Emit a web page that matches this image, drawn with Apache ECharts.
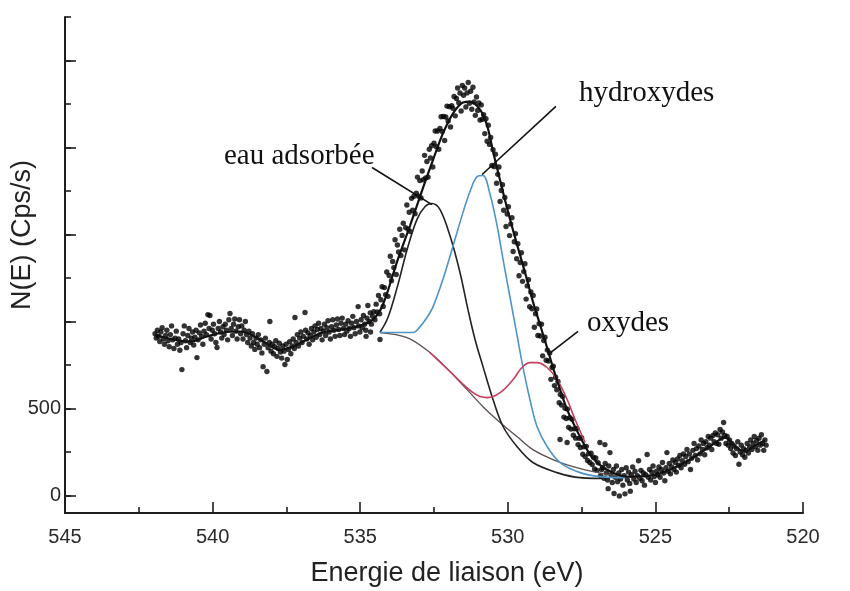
<!DOCTYPE html>
<html>
<head>
<meta charset="utf-8">
<script src="https://cdn.jsdelivr.net/npm/echarts@6/dist/echarts.min.js"></script>
<style>
  html, body { margin: 0; padding: 0; background: #fff; }
  #chart { width: 850px; height: 591px; }
</style>
</head>
<body>
<div id="chart"></div>
<script>
// O 1s spectrum: binding energy (eV) vs counts, with fitted components.

// Measured points [energy, counts]
const measured = [
  [541.95,930],[541.91,905],[541.87,950],[541.83,915],[541.79,885],[541.75,940],[541.71,965],[541.67,900],[541.63,870],[541.59,920],
  [541.55,950],[541.51,890],[541.47,855],[541.43,925],[541.39,975],[541.35,895],[541.31,845],[541.27,905],[541.23,945],[541.19,870],
  [541.15,900],[541.11,835],[541.07,880],[541.04,724],[541.00,930],[540.96,975],[540.92,890],[540.88,850],[540.84,920],[540.80,960],
  [540.76,880],[540.72,905],[540.68,940],[540.64,865],[540.60,910],[540.56,950],[540.53,793],[540.49,895],[540.45,935],[540.41,980],
  [540.37,915],[540.33,870],[540.29,945],[540.25,990],[540.21,925],[540.16,1040],[540.12,960],[540.09,1035],[540.05,900],[540.01,950],
  [539.97,985],[539.93,930],[539.89,880],[539.85,851],[539.81,960],[539.77,1000],[539.73,940],[539.69,905],[539.65,970],[539.61,925],
  [539.57,985],[539.53,950],[539.49,895],[539.45,1010],[539.41,1046],[539.37,960],[539.33,920],[539.29,985],[539.25,1015],[539.21,945],
  [539.17,900],[539.13,970],[539.09,1010],[539.05,930],[539.01,975],[538.97,900],[538.93,950],[538.89,1000],[538.85,925],[538.81,880],
  [538.77,945],[538.73,905],[538.69,860],[538.65,930],[538.61,880],[538.57,840],[538.53,905],[538.49,870],[538.45,925],[538.41,850],
  [538.37,895],[538.33,820],[538.29,741],[538.25,870],[538.21,905],[538.16,713],[538.12,850],[538.08,880],[538.06,1000],[538.02,830],
  [537.98,870],[537.94,815],[537.90,855],[537.86,890],[537.82,800],[537.78,845],[537.74,875],[537.70,825],[537.66,790],[537.62,860],
  [537.58,830],[537.55,753],[537.51,870],[537.47,782],[537.43,840],[537.39,885],[537.35,815],[537.31,860],[537.27,900],[537.23,845],
  [537.21,1023],[537.17,880],[537.13,925],[537.09,860],[537.05,905],[537.01,940],[536.97,880],[536.93,915],[536.87,1052],[536.85,950],
  [536.81,900],[536.77,935],[536.73,870],[536.69,920],[536.65,960],[536.61,895],[536.57,940],[536.53,975],[536.49,910],[536.45,955],
  [536.41,990],[536.37,925],[536.33,960],[536.29,895],[536.25,945],[536.21,985],[536.17,920],[536.13,965],[536.09,1005],[536.05,940],
  [536.01,900],[535.97,970],[535.93,1010],[535.89,950],[535.85,915],[535.81,980],[535.77,1015],[535.73,955],[535.69,920],[535.65,990],
  [535.61,1020],[535.57,960],[535.53,925],[535.49,985],[535.45,945],[535.41,1005],[535.37,960],[535.33,915],[535.29,990],[535.25,1030],
  [535.21,965],[535.17,930],[535.13,1000],[535.07,1086],[535.05,975],[535.01,940],[534.97,1010],[534.93,965],[534.89,1035],[534.85,985],
  [534.81,950],[534.80,915],[534.77,1020],[534.74,1092],[534.70,1000],[534.66,1050],[534.65,940],[534.62,985],[534.58,1030],
  [534.54,1057],[534.50,1010],[534.46,1100],[534.42,1055],[534.38,1150],[534.34,1045],[534.33,897],[534.30,1125],[534.26,1200],[534.22,1087],
  [534.18,1195],[534.14,1155],[534.10,1285],[534.06,1145],[534.02,1265],[533.98,1375],[533.94,1235],[533.90,1345],[533.86,1310],[533.82,1470],
  [533.78,1270],[533.74,1440],[533.70,1400],[533.66,1530],[533.62,1380],[533.58,1495],[533.54,1565],[533.50,1412],[533.46,1540],[533.42,1670],
  [533.38,1530],[533.34,1628],[533.30,1517],[533.26,1708],[533.22,1640],[533.18,1720],[533.14,1620],[533.10,1737],[533.06,1830],[533.02,1720],
  [532.98,1810],[532.94,1710],[532.90,1865],[532.86,1815],[532.82,1955],[532.78,1825],[532.74,1920],[532.70,1830],[532.66,1990],[532.62,1940],
  [532.58,2010],[532.54,1888],[532.50,2025],[532.46,2095],[532.42,2005],[532.38,2095],[532.34,1990],[532.30,2110],[532.26,2177],[532.22,2092],
  [532.18,2178],[532.14,2040],[532.10,2175],[532.06,2238],[532.02,2152],[531.98,2235],[531.94,2118],[531.90,2240],[531.86,2225],[531.82,2293],
  [531.78,2182],[531.74,2282],[531.70,2342],[531.66,2258],[531.62,2313],[531.58,2210],[531.54,2356],[531.50,2300],[531.46,2342],[531.42,2233],
  [531.38,2314],[531.34,2374],[531.30,2254],[531.26,2323],[531.22,2220],[531.18,2346],[531.14,2262],[531.10,2185],[531.06,2290],[531.02,2213],
  [530.98,2256],[530.94,2158],[530.90,2245],[530.86,2162],[530.82,2188],[530.78,2080],[530.74,2165],[530.70,2036],[530.66,2128],[530.62,2018],
  [530.58,2058],[530.54,1897],[530.50,1987],[530.46,1890],[530.42,1962],[530.38,1795],[530.34,1846],[530.30,1888],[530.26,1690],[530.22,1753],
  [530.18,1786],[530.14,1640],[530.10,1713],[530.06,1546],[530.02,1618],[529.98,1660],[529.94,1494],[529.90,1560],[529.86,1597],[529.82,1403],
  [529.78,1459],[529.74,1505],[529.70,1361],[529.66,1447],[529.62,1263],[529.58,1339],[529.54,1395],[529.50,1231],[529.46,1287],[529.42,1332],
  [529.38,1129],[529.34,1205],[529.30,1240],[529.26,1085],[529.22,1170],[529.18,1074],[529.14,1150],[529.10,967],[529.06,1045],[529.02,1072],
  [528.98,920],[528.94,988],[528.90,917],[528.86,985],[528.82,803],[528.78,891],[528.74,910],[528.70,778],[528.66,836],[528.62,773],
  [528.58,820],[528.54,668],[528.50,736],[528.46,743],[528.42,632],[528.38,680],[528.34,608],[528.30,656],[528.26,534],[528.23,322],
  [528.22,581],[528.18,520],[528.14,570],[528.10,451],[528.06,502],[528.02,443],[527.99,305],[527.98,497],[527.94,392],[527.90,447],
  [527.86,382],[527.82,438],[527.78,347],[527.74,384],[527.70,330],[527.66,386],[527.62,293],[527.58,329],[527.54,276],[527.50,332],
  [527.46,238],[527.42,280],[527.38,224],[527.34,283],[527.30,202],[527.26,241],[527.22,190],[527.18,244],[527.14,178],[527.10,220],
  [527.06,153],[527.02,216],[526.98,145],[526.94,189],[526.88,305],[526.86,115],[526.82,150],[526.78,160],[526.74,100],[526.71,293],
  [526.70,185],[526.66,130],[526.62,90],[526.60,40],[526.58,170],[526.54,247],[526.50,120],[526.46,75],[526.42,150],[526.40,12],
  [526.36,105],[526.32,170],[526.28,80],[526.24,130],[526.22,-2],[526.18,95],[526.14,150],[526.10,60],[526.06,115],[526.03,10],
  [525.99,160],[525.95,90],[525.91,135],[525.87,70],[525.85,25],[525.81,120],[525.77,165],[525.73,95],[525.69,140],[525.65,75],
  [525.61,115],[525.57,200],[525.53,100],[525.49,145],[525.45,85],[525.41,130],[525.37,60],[525.33,120],[525.28,236],[525.24,105],
  [525.20,150],[525.16,90],[525.12,135],[525.08,170],[525.04,110],[525.00,75],[524.96,140],[524.92,120],[524.88,165],[524.84,105],
  [524.80,150],[524.76,190],[524.72,130],[524.68,85],[524.64,160],[524.61,247],[524.57,140],[524.53,185],[524.49,125],[524.45,165],
  [524.41,205],[524.37,150],[524.33,190],[524.29,135],[524.25,210],[524.21,175],[524.17,230],[524.13,160],[524.09,200],[524.05,240],
  [524.01,180],[523.97,225],[523.93,265],[523.89,195],[523.85,240],[523.81,150],[523.77,215],[523.73,260],[523.69,300],[523.65,230],
  [523.61,270],[523.57,205],[523.53,285],[523.49,240],[523.45,320],[523.41,265],[523.37,300],[523.33,235],[523.29,310],[523.25,275],
  [523.21,340],[523.17,290],[523.13,330],[523.09,265],[523.05,345],[523.01,310],[522.97,360],[522.93,300],[522.89,350],[522.85,295],
  [522.81,380],[522.77,330],[522.73,365],[522.69,420],[522.65,345],[522.61,300],[522.57,340],[522.53,290],[522.49,320],[522.45,270],
  [522.41,300],[522.37,245],[522.33,285],[522.29,230],[522.25,270],[522.21,310],[522.17,180],[522.13,250],[522.09,290],[522.05,235],
  [522.01,270],[521.97,220],[521.93,260],[521.89,300],[521.85,245],[521.81,280],[521.77,320],[521.73,265],[521.69,300],[521.65,340],
  [521.61,280],[521.57,315],[521.53,260],[521.49,330],[521.45,290],[521.41,350],[521.37,300],[521.33,260],[521.29,320],[521.25,290]
];

// Total fitted envelope
const envelope = [
  [541.95,925],[541.34,897],[540.77,885],[540.19,914],[539.65,937],[539.07,943],[538.39,897],[537.72,839],[537.28,856],
  [536.80,897],[536.26,937],[535.68,954],[535.11,971],[534.57,1011],[534.23,1098],[533.75,1345],[533.31,1552],[532.87,1770],
  [532.53,1931],[532.20,2080],[531.86,2195],[531.52,2259],[531.28,2264],[530.94,2218],[530.70,2126],[530.50,1977],[530.26,1810],
  [530.03,1655],[529.82,1523],[529.59,1385],[529.35,1241],[529.15,1115],[528.91,983],[528.67,851],[528.47,736],[528.23,609],
  [527.99,494],[527.79,420],[527.45,305],[527.11,213],[526.64,149],[525.96,109],[525.18,115],[524.51,149],[523.83,207],
  [523.15,282],[522.64,333],[522.30,282],[521.96,253],[521.63,287],[521.29,316]
];

// Background under the O 1s peak
const background = [
  [534.33,937],[533.41,908],[532.64,822],[531.96,713],[531.38,609],[530.84,511],[530.26,420],[529.69,339],
  [529.15,264],[528.47,207],[527.79,167],[527.11,138],[526.37,115],[525.52,103]
];

// Adsorbed water component
const water = [
  [534.33,937],[534.06,1023],[533.75,1195],[533.41,1414],[533.08,1586],[532.80,1661],[532.57,1678],[532.30,1644],
  [531.96,1494],[531.62,1282],[531.35,1069],[531.11,897],[530.84,741],[530.50,552],[530.16,397],[529.69,282],
  [529.15,190],[528.33,132],[527.55,103],[526.54,98]
];

// Hydroxide component
const hydroxide = [
  [534.33,937],[533.21,937],[532.97,971],[532.74,1023],[532.53,1086],[532.20,1241],[531.86,1431],[531.52,1626],
  [531.28,1747],[531.04,1833],[530.84,1839],[530.60,1730],[530.37,1557],[530.16,1356],[529.93,1144],[529.69,925],
  [529.49,741],[529.25,552],[529.01,397],[528.67,282],[528.23,190],[527.55,132],[526.88,109],[526.03,103]
];

// Oxide component
const oxide = [
  [532.64,822],[531.96,713],[531.18,592],[530.70,563],[530.26,592],[529.82,667],[529.52,736],[529.25,764],
  [529.01,764],[528.67,736],[528.33,667],[527.99,552],[527.72,437],[527.38,305]
];

// Axis ticks
const xTicks = [545, 540, 535, 530, 525, 520];
const yMinorTicks = [0, 250, 500, 750, 1000, 1250, 1500, 1750, 2000, 2250, 2500, 2750];
const yMajorTicks = [0, 500, 1000, 1500, 2000, 2500];
const yLabelled = [0, 500];

// Leader lines from each annotation to its component [from, to]
const leaders = [
  [[534.60, 1885], [532.57, 1672]],
  [[528.37, 2236], [530.87, 1845]],
  [[527.62, 943], [528.64, 810]]
];

const chart = echarts.init(document.getElementById('chart'), null, { renderer: 'canvas' });

const lineSeries = (name, data, color, width) => ({
  name, type: 'line', data, smooth: 0.35, showSymbol: false, symbol: 'none',
  lineStyle: { color, width }, z: 3, silent: true
});

const axisColor = '#1e1e1e';

chart.setOption({
  animation: false,
  backgroundColor: '#ffffff',
  grid: { left: 65, right: 47, top: 17, bottom: 78, containLabel: false },
  xAxis: {
    type: 'value', min: xTicks[xTicks.length - 1], max: xTicks[0], interval: 5, inverse: true,
    axisLine: { onZero: false, lineStyle: { color: axisColor, width: 2 } },
    axisTick: { inside: true, length: 11, lineStyle: { color: axisColor, width: 1.6 } },
    minorTick: { show: true, splitNumber: 2, length: 6, lineStyle: { color: axisColor, width: 1.6 } },
    axisLabel: { fontSize: 20, fontFamily: 'Liberation Sans', color: '#2a2a2a', margin: 14 },
    splitLine: { show: false }
  },
  yAxis: [
    {
      type: 'value', min: -100, max: 2750,
      axisLine: { show: true, onZero: false, lineStyle: { color: axisColor, width: 2 } },
      axisTick: { show: true, inside: true, length: 6, customValues: yMinorTicks, lineStyle: { color: axisColor, width: 1.6 } },
      axisLabel: { customValues: yLabelled, fontSize: 20, fontFamily: 'Liberation Sans', color: '#2a2a2a', margin: 4 },
      splitLine: { show: false }
    },
    {
      type: 'value', min: -100, max: 2750, position: 'left', offset: 0,
      axisLine: { show: false, onZero: false },
      axisTick: { show: true, inside: true, length: 11, customValues: yMajorTicks, lineStyle: { color: axisColor, width: 1.6 } },
      axisLabel: { show: false },
      splitLine: { show: false }
    }
  ],
  series: [
    {
      name: 'mesure', type: 'scatter', data: measured, symbol: 'circle', symbolSize: 5.4,
      itemStyle: { color: '#000' }, z: 2, silent: true
    },
    lineSeries('fond', background, '#5d5050', 1.3),
    lineSeries('eau adsorbée', water, '#222222', 1.6),
    lineSeries('hydroxydes', hydroxide, '#4f94c8', 1.6),
    lineSeries('oxydes', oxide, '#c4405c', 1.6),
    Object.assign(lineSeries('enveloppe', envelope, '#111111', 2.2), {
      z: 4,
      markLine: {
        silent: true, symbol: 'none', animation: false,
        label: { show: false },
        lineStyle: { color: '#111', width: 1.6, type: 'solid' },
        data: leaders.map(([a, b]) => [{ coord: a }, { coord: b }])
      }
    })
  ],
  graphic: [
    {
      type: 'text', x: 23, y: 235, rotation: Math.PI / 2,
      style: { text: 'N(E) (Cps/s)', fontSize: 27, fontFamily: 'Liberation Sans', fill: '#222', align: 'center', verticalAlign: 'middle' }
    },
    {
      type: 'text', x: 447, y: 574,
      style: { text: 'Energie de liaison (eV)', fontSize: 27, fontFamily: 'Liberation Sans', fill: '#222', align: 'center', verticalAlign: 'middle' }
    },
    {
      type: 'text', x: 224, y: 156,
      style: { text: 'eau adsorbée', fontSize: 29, fontFamily: 'Liberation Serif', fill: '#111', align: 'left', verticalAlign: 'middle' }
    },
    {
      type: 'text', x: 579, y: 93,
      style: { text: 'hydroxydes', fontSize: 29, fontFamily: 'Liberation Serif', fill: '#111', align: 'left', verticalAlign: 'middle' }
    },
    {
      type: 'text', x: 587, y: 323,
      style: { text: 'oxydes', fontSize: 29, fontFamily: 'Liberation Serif', fill: '#111', align: 'left', verticalAlign: 'middle' }
    }
  ]
});
</script>
</body>
</html>
